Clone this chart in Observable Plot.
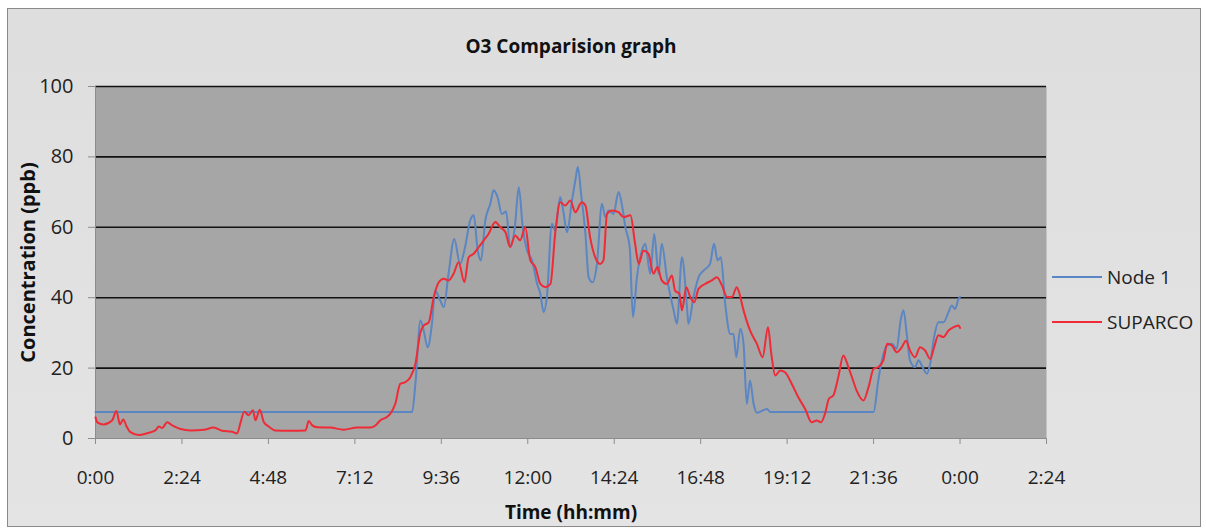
<!DOCTYPE html>
<html>
<head>
<meta charset="utf-8">
<script src="https://cdn.jsdelivr.net/npm/d3@7"></script>
<script src="https://cdn.jsdelivr.net/npm/@observablehq/plot@0.6"></script>
<style>
  html, body { margin: 0; padding: 0; background: #ffffff; }
  #wrap { position: relative; width: 1206px; height: 529px; overflow: hidden; font-family: "Open Sans", "Noto Sans", sans-serif; }
  #frame { position: absolute; left: 7px; top: 8px; width: 1192px; height: 517px; background: linear-gradient(#dedede, #e4e4e4); border: 1px solid #8a8a8a; }
  #chart { position: absolute; left: 0; top: 0; }
  .leg { position: absolute; left: 1052px; font-size: 19px; color: #222; display: flex; align-items: center; line-height: 22px; }
  .leg span.sw { display: inline-block; width: 50px; height: 2px; margin-right: 5px; }
</style>
</head>
<body>
<div id="wrap">
  <div id="frame"></div>
  <div id="chart"></div>
  <div class="leg" style="top:266px"><span class="sw" style="background:#5a86c4"></span>Node 1</div>
  <div class="leg" style="top:311px"><span class="sw" style="background:#ee2b36"></span>SUPARCO</div>
</div>
<script>
// ---- data (hours since 0:00, concentration in ppb) ----
const nodeTime = [0, 8.79, 8.88, 9.02, 9.11, 9.22, 9.34, 9.43, 9.57, 9.67, 9.80, 9.96, 10.12, 10.26, 10.40, 10.50, 10.61, 10.70, 10.82, 10.96, 11.05, 11.16, 11.28, 11.40, 11.51, 11.64, 11.75, 11.86, 11.98, 12.12, 12.26, 12.35, 12.44, 12.53, 12.67, 12.76, 12.90, 12.99, 13.09, 13.22, 13.32, 13.39, 13.48, 13.60, 13.69, 13.80, 13.92, 14.06, 14.15, 14.24, 14.38, 14.52, 14.62, 14.71, 14.83, 14.92, 15.03, 15.17, 15.26, 15.40, 15.51, 15.63, 15.72, 15.86, 16.05, 16.14, 16.28, 16.42, 16.46, 16.60, 16.74, 16.88, 17.06, 17.17, 17.27, 17.36, 17.48, 17.62, 17.71, 17.79, 17.90, 17.99, 18.08, 18.17, 18.27, 18.36, 18.64, 18.73, 21.60, 21.73, 21.83, 21.97, 22.11, 22.24, 22.35, 22.43, 22.52, 22.61, 22.75, 22.85, 22.94, 23.08, 23.17, 23.28, 23.40, 23.54, 23.68, 23.77, 23.86, 23.96, 24.00];
const nodeValue = [7.5, 7.5, 15.5, 33.5, 30.7, 25.9, 32.6, 42, 39.2, 37.3, 46.8, 56.7, 49.6, 54.4, 61.9, 63.4, 53.4, 50.6, 61.9, 66.7, 70.5, 68.6, 63.8, 64.5, 54.4, 60, 71.4, 60, 53.4, 50.6, 43.9, 41.1, 35.9, 40.2, 61, 59.1, 68.6, 64.3, 58.6, 67.1, 73.3, 77.1, 69.5, 58.1, 45.8, 44.4, 49.6, 66.7, 62.9, 64.8, 63.8, 70, 66, 60, 54.4, 34.5, 45.8, 53.4, 55.3, 46.8, 58.1, 46.8, 55.3, 45.8, 36.4, 32.6, 51.5, 37.3, 32.6, 40.2, 45.8, 47.7, 49.6, 55.3, 50.6, 51.5, 38.3, 29.7, 29.7, 23.1, 31.2, 26.9, 9.8, 16.5, 9.8, 7.3, 8.4, 7.5, 7.5, 16.5, 22.2, 26.4, 26.9, 25.5, 33.5, 36.4, 29.7, 22.2, 20.3, 22.2, 20.7, 18.4, 21.2, 28.8, 33, 33, 35.9, 37.8, 36.8, 39.7, 40.2];

const suparcoTime = [0, 0.05, 0.23, 0.46, 0.58, 0.68, 0.77, 0.86, 0.97, 1.20, 1.43, 1.66, 1.76, 1.85, 1.99, 2.13, 2.36, 2.64, 3.01, 3.28, 3.51, 3.79, 3.93, 4.02, 4.13, 4.25, 4.37, 4.44, 4.56, 4.67, 4.81, 4.99, 5.41, 5.83, 5.92, 6.01, 6.15, 6.52, 6.89, 7.26, 7.63, 7.77, 7.91, 8.09, 8.18, 8.32, 8.46, 8.60, 8.74, 8.88, 9.02, 9.11, 9.25, 9.39, 9.53, 9.67, 9.80, 9.94, 10.08, 10.24, 10.36, 10.50, 10.64, 10.78, 10.91, 11.10, 11.24, 11.38, 11.51, 11.65, 11.79, 11.93, 12.07, 12.21, 12.35, 12.49, 12.63, 12.76, 12.90, 13.04, 13.18, 13.32, 13.50, 13.60, 13.73, 13.87, 14.01, 14.10, 14.20, 14.34, 14.52, 14.66, 14.85, 14.98, 15.08, 15.21, 15.35, 15.49, 15.60, 15.72, 15.86, 16.00, 16.09, 16.21, 16.28, 16.40, 16.51, 16.62, 16.74, 16.92, 17.11, 17.25, 17.39, 17.53, 17.67, 17.80, 17.85, 17.99, 18.17, 18.36, 18.52, 18.67, 18.76, 18.87, 19.01, 19.14, 19.33, 19.51, 19.70, 19.88, 20.02, 20.14, 20.25, 20.36, 20.48, 20.62, 20.76, 20.90, 21.00, 21.13, 21.32, 21.46, 21.60, 21.73, 21.87, 21.98, 22.11, 22.24, 22.38, 22.50, 22.61, 22.75, 22.89, 23.03, 23.17, 23.28, 23.40, 23.54, 23.68, 23.81, 23.96, 24.00];
const suparcoValue = [6, 4.6, 4.0, 5.1, 7.8, 4, 5.4, 3.5, 1.8, 1.0, 1.5, 2.3, 3.4, 3, 4.6, 3.7, 2.7, 2.3, 2.5, 3.1, 2.2, 1.9, 1.4, 4.3, 7.6, 6.6, 8.0, 5.2, 8.2, 4.7, 3.4, 2.3, 2.2, 2.3, 5, 3.8, 3.2, 3.1, 2.5, 3.1, 3.1, 3.7, 5.2, 6.1, 7.0, 9.8, 15.5, 16, 17.4, 21.2, 30.2, 32.1, 33, 40.2, 44.4, 45.4, 44.9, 46.8, 50.1, 44.4, 51.5, 52.5, 54.4, 56.3, 58.1, 61.5, 60, 58.6, 54.4, 57.7, 56.3, 60, 50.6, 48.7, 43.9, 43, 43.9, 58.1, 67.1, 66.2, 67.6, 64.3, 67.1, 66.2, 57.2, 51.5, 49.6, 50.6, 63.8, 64.8, 64.3, 62.9, 63.4, 55.3, 49.6, 53.4, 52.5, 46.8, 48.7, 44.9, 43.9, 46.3, 42, 41.1, 36.4, 43, 40.2, 38.7, 42.5, 43.9, 44.9, 45.8, 43.5, 40.2, 40.2, 43, 42, 36.4, 30.7, 26.9, 23.1, 31.6, 24.1, 17.9, 19.3, 18.8, 15.5, 11.7, 8.4, 4.6, 5.1, 4.6, 7.0, 11.3, 12.2, 17.4, 23.6, 20.3, 17.4, 13.6, 10.8, 14.6, 19.8, 20.3, 22.2, 26.9, 26.4, 24.5, 25.9, 27.8, 25, 23.1, 25.9, 25, 22.6, 25.9, 29.3, 28.8, 30.7, 31.6, 32.1, 31.4];

const xTicks = [0, 2.4, 4.8, 7.2, 9.6, 12, 14.4, 16.8, 19.2, 21.6, 24, 26.4];
const xTickLabels = ["0:00", "2:24", "4:48", "7:12", "9:36", "12:00", "14:24", "16:48", "19:12", "21:36", "0:00", "2:24"];
const yTicks = [0, 20, 40, 60, 80, 100];
const gridValues = [20, 40, 60, 80, 100];

const titleText = "O3 Comparision graph";
const xLabel = "Time (hh:mm)";
const yLabel = "Concentration (ppb)";

const node = nodeTime.map((t, i) => ({t, v: nodeValue[i]}));
const suparco = suparcoTime.map((t, i) => ({t, v: suparcoValue[i]}));

const chart = Plot.plot({
  width: 1206,
  height: 529,
  marginLeft: 95,
  marginRight: 160,
  marginTop: 86,
  marginBottom: 91,
  style: { background: "transparent", fontFamily: "'Open Sans', 'Noto Sans', sans-serif", color: "#222" },
  x: { domain: [0, 26.4] },
  y: { domain: [0, 100] },
  marks: [
    Plot.frame({ fill: "#a6a6a6", stroke: null }),
    Plot.ruleY(gridValues, { stroke: "#111", strokeWidth: 1.6 }),
    Plot.ruleY([0], { stroke: "#8c8c8c", strokeWidth: 1.2 }),
    Plot.ruleX([0], { stroke: "#8c8c8c", strokeWidth: 1 }),
    Plot.axisY({ ticks: yTicks, tickSize: 7, tickPadding: 15, fontSize: 20, stroke: "#8c8c8c", label: null }),
    Plot.axisX({ ticks: xTicks, tickFormat: (d, i) => xTickLabels[i], tickSize: 6, tickPadding: 26, fontSize: 19, stroke: "#8c8c8c", label: null }),
    Plot.line(node, { x: "t", y: "v", stroke: "#5a86c4", strokeWidth: 2, curve: "monotone-x" }),
    Plot.line(suparco, { x: "t", y: "v", stroke: "#ee2b36", strokeWidth: 2, curve: "monotone-x" }),
    Plot.text([titleText], { frameAnchor: "top", dy: -47, fontSize: 19, fontWeight: "bold", fill: "#111" }),
    Plot.text([xLabel], { frameAnchor: "bottom", dy: 80, fontSize: 19, fontWeight: "bold", fill: "#111" }),
    Plot.text([yLabel], { frameAnchor: "left", dx: -67, rotate: -90, textAnchor: "middle", fontSize: 20, fontWeight: "bold", fill: "#111" })
  ]
});
document.getElementById("chart").appendChild(chart);
</script>
</body>
</html>
